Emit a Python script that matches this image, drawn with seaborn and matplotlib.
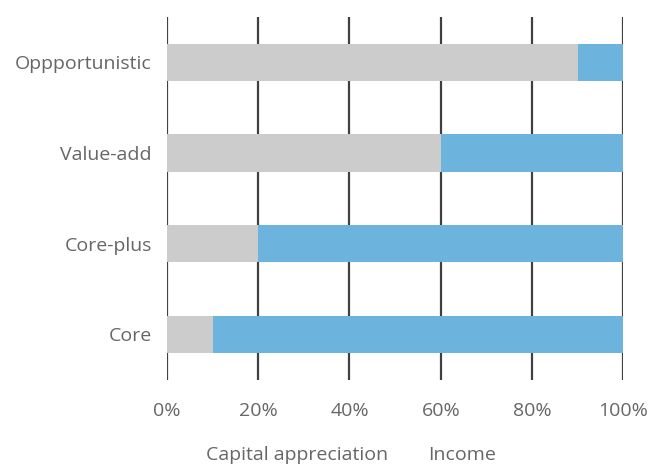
import pandas as pd
import matplotlib.pyplot as plt
import seaborn as sns

strategies = ['Oppportunistic', 'Value-add', 'Core-plus', 'Core']
capital = [90, 60, 20, 10]
income = [10, 40, 80, 90]

df = pd.DataFrame({'strategy': strategies, 'capital': capital, 'income': income})
df['total'] = df['capital'] + df['income']

sns.set_style('white')
plt.rcParams['font.family'] = ['Open Sans', 'DejaVu Sans']

fig = plt.figure(figsize=(6.52, 4.66), dpi=100)
ax = fig.add_axes([0.256, 0.185, 0.7, 0.7785])

sns.barplot(data=df, y='strategy', x='total', color='#6cb4de', width=0.41,
            saturation=1, orient='h', ax=ax, zorder=3, linewidth=0)
sns.barplot(data=df, y='strategy', x='capital', color='#cccccc', width=0.41,
            saturation=1, orient='h', ax=ax, zorder=4, linewidth=0)

ax.set_xlim(0, 100)
ax.set_ylim(3.5, -0.5)
ax.set_xticks([0, 20, 40, 60, 80, 100])
ax.set_xticklabels([f'{v}%' for v in [0, 20, 40, 60, 80, 100]])
for v in [0, 20, 40, 60, 80, 100]:
    ax.axvline(v, color='#404040', lw=1.6, zorder=1)
for s in ax.spines.values():
    s.set_visible(False)
ax.tick_params(axis='both', length=0, labelsize=14, colors='#666666')
ax.tick_params(axis='x', pad=16)
ax.tick_params(axis='y', pad=11)
ax.set_xlabel('')
ax.set_ylabel('')

fig.text(0.455, 0.005, 'Capital appreciation', ha='center', va='bottom',
         fontsize=14, color='#666666')
fig.text(0.708, 0.005, 'Income', ha='center', va='bottom',
         fontsize=14, color='#666666')

plt.savefig('out.png', dpi=100)
